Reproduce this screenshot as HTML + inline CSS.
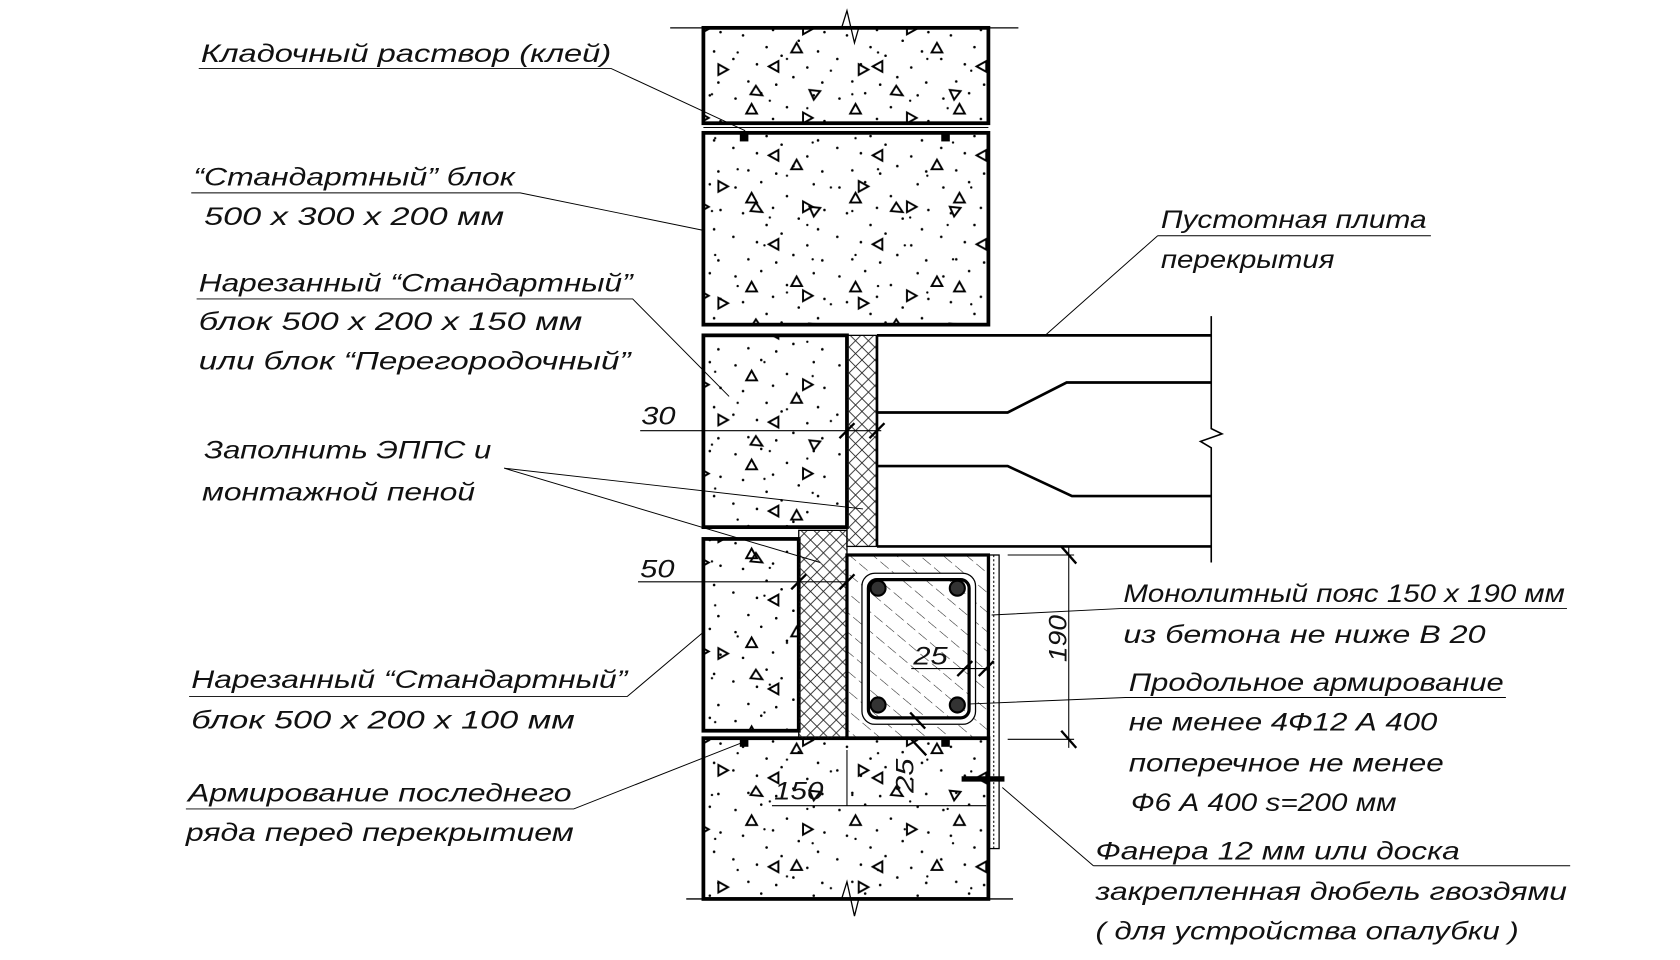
<!DOCTYPE html>
<html><head><meta charset="utf-8">
<style>
html,body{margin:0;padding:0;background:#fff;}
svg{display:block;}
text{font-family:"Liberation Sans","DejaVu Sans",sans-serif;font-style:italic;font-size:23px;fill:#111;}
</style></head>
<body>
<svg width="1680" height="960" viewBox="0 0 1567 896" xmlns="http://www.w3.org/2000/svg">
<defs>
<pattern id="cross" width="12" height="12" patternUnits="userSpaceOnUse">
<path d="M0 0L12 12M12 0L0 12" stroke="#222" stroke-width="0.8"/>
</pattern>
<pattern id="diag" width="14" height="14" patternUnits="userSpaceOnUse" patternTransform="rotate(-50)">
<path d="M0 0V14" stroke="#222" stroke-width="1" stroke-dasharray="10 4"/>
</pattern>
<pattern id="sp1" width="97" height="83" patternUnits="userSpaceOnUse">
<g fill="#000">
<circle cx="7" cy="9" r="1.2"/><circle cx="31" cy="4" r="1.2"/><circle cx="55" cy="17" r="1.2"/><circle cx="80" cy="6" r="1.2"/>
<circle cx="14" cy="33" r="1.2"/><circle cx="42" cy="28" r="1.2"/><circle cx="66" cy="38" r="1.2"/><circle cx="90" cy="30" r="1.2"/>
<circle cx="5" cy="55" r="1.2"/><circle cx="27" cy="60" r="1.2"/><circle cx="50" cy="52" r="1.2"/><circle cx="74" cy="63" r="1.2"/>
<circle cx="19" cy="76" r="1.2"/><circle cx="45" cy="79" r="1.2"/><circle cx="61" cy="72" r="1.2"/><circle cx="88" cy="77" r="1.2"/>
<circle cx="36" cy="44" r="1.2"/><circle cx="84" cy="48" r="1.2"/>
</g>
<g fill="none" stroke="#000" stroke-width="1.8">
<path d="M22 14L27 23L17 23Z"/><path d="M70 22L79 27L70 32Z"/><path d="M38 62L47 57L47 67Z"/>
</g>
</pattern>
<pattern id="sp2" width="131" height="109" patternUnits="userSpaceOnUse">
<g fill="#000">
<circle cx="12" cy="20" r="1.1"/><circle cx="58" cy="11" r="1.1"/><circle cx="103" cy="24" r="1.1"/>
<circle cx="33" cy="49" r="1.1"/><circle cx="79" cy="55" r="1.1"/><circle cx="120" cy="66" r="1.1"/>
<circle cx="9" cy="88" r="1.1"/><circle cx="63" cy="94" r="1.1"/><circle cx="98" cy="101" r="1.1"/>
</g>
<g fill="none" stroke="#000" stroke-width="1.8">
<path d="M88 40L93 49L83 49Z"/><path d="M15 60L24 65L15 70Z"/><path d="M110 85L104 93L100 84Z"/><path d="M50 80L56 89L45 88Z"/>
</g>
</pattern>
</defs>
<g fill="none" stroke="#000">
<path d="M625 26H785L790 10L797 40L801 26H950" stroke-width="1.2"/>
<g stroke="none">
<rect x="656" y="26" width="266" height="89" fill="url(#sp1)"/><rect x="656" y="26" width="266" height="89" fill="url(#sp2)"/>
<rect x="656" y="124" width="266" height="179" fill="url(#sp1)"/><rect x="656" y="124" width="266" height="179" fill="url(#sp2)"/>
<rect x="656" y="313" width="134" height="179" fill="url(#sp1)"/><rect x="656" y="313" width="134" height="179" fill="url(#sp2)"/>
<rect x="656" y="503" width="89" height="179" fill="url(#sp1)"/><rect x="656" y="503" width="89" height="179" fill="url(#sp2)"/>
<rect x="656" y="689" width="266" height="150" fill="url(#sp1)"/><rect x="656" y="689" width="266" height="150" fill="url(#sp2)"/>
</g>
<rect x="656" y="26" width="266" height="89" stroke-width="3.5"/>
<line x1="656" y1="119" x2="922" y2="119" stroke-width="1"/>
<rect x="656" y="124" width="266" height="179" stroke-width="3.5"/>
<rect x="690" y="124" width="8" height="8" fill="#000" stroke="none"/>
<rect x="878" y="124" width="8" height="8" fill="#000" stroke="none"/>
<rect x="656" y="313" width="134" height="179" stroke-width="3.5"/>
<rect x="656" y="503" width="89" height="179" stroke-width="3.5"/>
<rect x="656" y="689" width="266" height="150" stroke-width="3.5"/>
<rect x="690" y="689" width="8" height="8" fill="#000" stroke="none"/>
<rect x="878" y="689" width="8" height="8" fill="#000" stroke="none"/>
<rect x="790" y="313" width="28" height="197" fill="url(#cross)" stroke-width="1.2"/>
<rect x="745" y="495" width="45" height="194" fill="url(#cross)" stroke-width="1.2"/>
<rect x="790" y="518" width="132" height="171" fill="url(#diag)" stroke-width="3"/>
<rect x="804" y="535" width="106" height="141" rx="12" fill="#fff" stroke-width="1.2"/>
<rect x="810" y="541" width="94" height="129" rx="8" fill="url(#diag)" stroke-width="3"/>
<g fill="#333" stroke="#000" stroke-width="2">
<circle cx="819" cy="549" r="7"/><circle cx="893" cy="549" r="7"/>
<circle cx="819" cy="658" r="7"/><circle cx="893" cy="658" r="7"/>
</g>
<rect x="923" y="518" width="9" height="274" stroke-width="1.2"/>
<line x1="927" y1="518" x2="927" y2="792" stroke-width="1" stroke-dasharray="2 2"/>
<line x1="897" y1="727" x2="937" y2="727" stroke-width="5"/>
<path d="M818 313H1130M818 510H1130M818 385H940L995 357H1130M818 435H940L1000 463H1130" stroke-width="2.5"/>
<path d="M818 313V510" stroke-width="2.5"/>
<path d="M1130 295V400L1140 405L1120 412L1130 418V525" stroke-width="1.5"/>
<path d="M640 839H785L790 823L797 855L801 839H945" stroke-width="1.2"/>
<g stroke-width="1">
<path d="M597 402H822"/><path d="M595 543H790"/>
<path d="M940 518H1002M940 690H1002M997 510V698"/>
<path d="M850 624H920"/>
<path d="M790 700V752M720 752H920"/>
</g>
<g stroke-width="2.2">
<path d="M783 409L797 395M811 409L825 395M738 550L752 536M783 550L797 536"/>
<path d="M990 510L1004 526M990 682L1004 698"/>
<path d="M893 631L907 617M913 631L927 617M849 665L863 680M850 690L864 705"/>
</g>
<g stroke-width="0.9">
<path d="M185 64H570L695 122"/>
<path d="M178 180H485L656 215"/>
<path d="M183 279H590L680 370"/>
<path d="M470 437L805 475M470 437L765 525"/>
<path d="M176 650H585L656 590"/>
<path d="M173 755H535L695 692"/>
<path d="M1080 220H1335M1080 220L975 313"/>
<path d="M1045 568H1462M1045 568L925 574"/>
<path d="M1050 651H1405M1050 651L905 657"/>
<path d="M1020 808H1465M1020 808L935 735"/>
</g>
</g>
<text x="187" y="58" textLength="383" lengthAdjust="spacingAndGlyphs">Кладочный раствор (клей)</text>
<text x="180" y="173" textLength="300" lengthAdjust="spacingAndGlyphs">“Стандартный” блок</text>
<text x="190" y="210" textLength="280" lengthAdjust="spacingAndGlyphs">500 x 300 x 200  мм</text>
<text x="185" y="272" textLength="405" lengthAdjust="spacingAndGlyphs">Нарезанный “Стандартный”</text>
<text x="185" y="308" textLength="358" lengthAdjust="spacingAndGlyphs">блок 500 x 200 x 150 мм</text>
<text x="185" y="345" textLength="403" lengthAdjust="spacingAndGlyphs">или блок “Перегородочный”</text>
<text x="190" y="428" textLength="268" lengthAdjust="spacingAndGlyphs">Заполнить ЭППС и</text>
<text x="188" y="467" textLength="255" lengthAdjust="spacingAndGlyphs">монтажной пеной</text>
<text x="178" y="642" textLength="407" lengthAdjust="spacingAndGlyphs">Нарезанный “Стандартный”</text>
<text x="178" y="680" textLength="358" lengthAdjust="spacingAndGlyphs">блок 500 x 200 x 100 мм</text>
<text x="175" y="748" textLength="358" lengthAdjust="spacingAndGlyphs">Армирование последнего</text>
<text x="173" y="785" textLength="362" lengthAdjust="spacingAndGlyphs">ряда перед перекрытием</text>
<text x="1083" y="213" textLength="248" lengthAdjust="spacingAndGlyphs">Пустотная плита</text>
<text x="1083" y="250" textLength="162" lengthAdjust="spacingAndGlyphs">перекрытия</text>
<text x="1048" y="562" textLength="412" lengthAdjust="spacingAndGlyphs">Монолитный пояс  150 x 190 мм</text>
<text x="1048" y="600" textLength="338" lengthAdjust="spacingAndGlyphs">из бетона не ниже В 20</text>
<text x="1053" y="645" textLength="350" lengthAdjust="spacingAndGlyphs">Продольное армирование</text>
<text x="1053" y="682" textLength="288" lengthAdjust="spacingAndGlyphs">не менее  4Ф12 А 400</text>
<text x="1053" y="720" textLength="294" lengthAdjust="spacingAndGlyphs">поперечное не менее</text>
<text x="1055" y="757" textLength="248" lengthAdjust="spacingAndGlyphs">Ф6 А 400 s=200 мм</text>
<text x="1022" y="802" textLength="340" lengthAdjust="spacingAndGlyphs">Фанера  12 мм или доска</text>
<text x="1022" y="840" textLength="440" lengthAdjust="spacingAndGlyphs">закрепленная дюбель гвоздями</text>
<text x="1022" y="877" textLength="395" lengthAdjust="spacingAndGlyphs">( для устройства опалубки )</text>
<text x="598" y="396" textLength="32" lengthAdjust="spacingAndGlyphs">30</text>
<text x="597" y="539" textLength="32" lengthAdjust="spacingAndGlyphs">50</text>
<text x="852" y="620" textLength="32" lengthAdjust="spacingAndGlyphs">25</text>
<text x="722" y="746" textLength="46" lengthAdjust="spacingAndGlyphs">150</text>
<text transform="translate(852 740) rotate(-90)" textLength="32" lengthAdjust="spacingAndGlyphs">25</text>
<text transform="translate(995 618) rotate(-90)" textLength="44" lengthAdjust="spacingAndGlyphs">190</text>
</svg>
</body></html>
